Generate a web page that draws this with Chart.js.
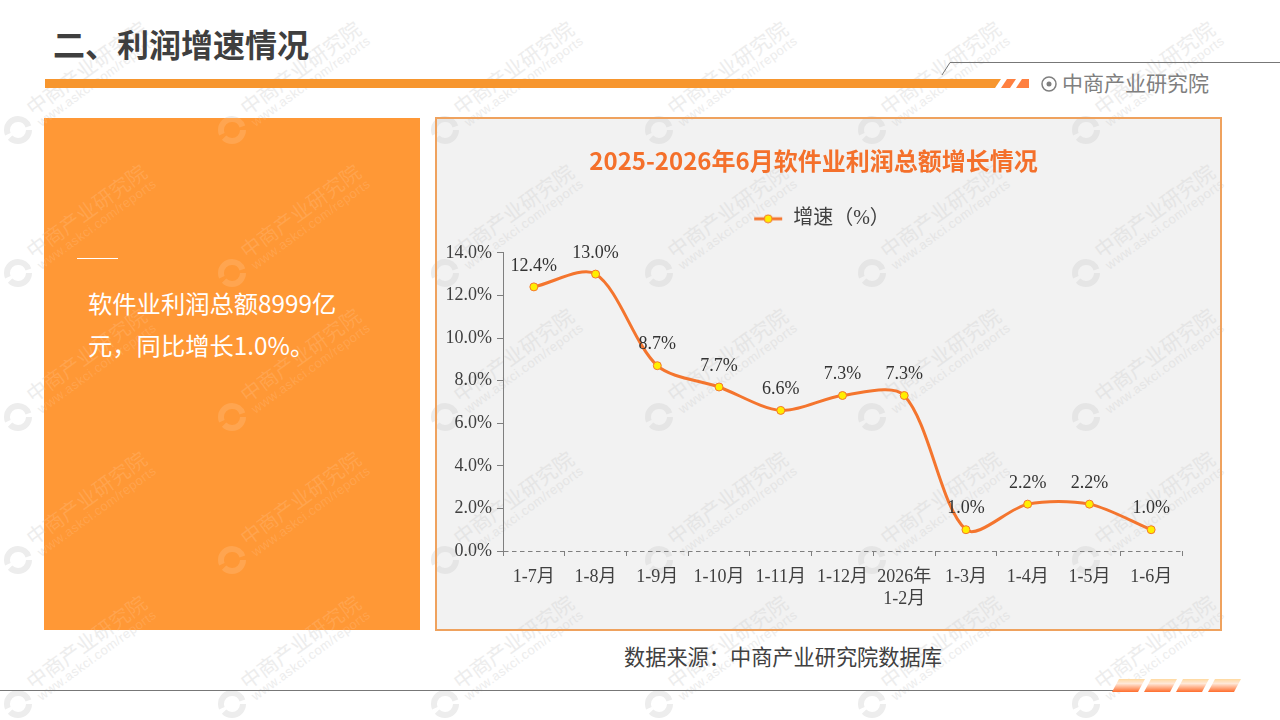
<!DOCTYPE html>
<html lang="zh">
<head>
<meta charset="utf-8">
<title>利润增速情况</title>
<script src="https://cdn.jsdelivr.net/npm/chart.js@4/dist/chart.umd.min.js"></script>
<style>
html,body{margin:0;padding:0;background:#fff}
body{position:relative;width:1280px;height:720px;overflow:hidden;font-family:"Noto Sans CJK SC",sans-serif}
.abs{position:absolute}
.wm{position:absolute;inset:0;overflow:hidden}
.wm div{position:absolute;white-space:nowrap;transform:rotate(-36deg);transform-origin:0 0}
.wm .cn{font-size:20.4px;line-height:20px}
.wm .en{font:13px/14px "Liberation Sans",sans-serif;letter-spacing:.5px}
#heading{left:53px;top:21px;font-size:32px;font-weight:700;line-height:44px;color:#3f3f3f}
#brand{left:1062px;top:68px;font-size:21px;line-height:28px;color:#7f7f7f}
#side{left:44px;top:118px;width:376px;height:512px;background:#ff9836;overflow:hidden}
#sideText{left:88px;top:282px;width:260px;font-size:24.3px;line-height:42px;color:#fff}
#panel{left:435px;top:117px;width:783px;height:510px;background:#f2f2f2;border:2px solid #efa25e;overflow:hidden}
#chartBox{left:437px;top:120px;width:755px;height:509px}
#source{left:624px;top:641px;font-size:21.2px;line-height:30px;color:#404040}
</style>
</head>
<body>
<div class="wm" id="wmPage"></div>
<div class="abs" id="heading">二、利润增速情况</div>
<svg class="abs" style="left:0;top:0" width="1280" height="720">
  <polygon points="45,79 1001,79 995,88 45,88" fill="#f7962e"/>
  <polygon points="1007,79 1016,79 1010,88 1001,88" fill="#ff8040"/>
  <polygon points="1022,79 1029,79 1029,88 1016,88" fill="#ff8040"/>
  <polyline points="942,75 950,62.5 1280,62.5" fill="none" stroke="#777" stroke-width="1"/>
  <circle cx="1049" cy="84" r="7" fill="none" stroke="#7f7f7f" stroke-width="1.5"/>
  <circle cx="1049" cy="84" r="2.5" fill="#7f7f7f"/>
  <line x1="0" y1="690.5" x2="1114" y2="690.5" stroke="#777" stroke-width="1"/>
  <defs><linearGradient id="foot" x1="0" y1="0" x2="0" y2="1">
    <stop offset="0" stop-color="#ffd9a0"/><stop offset=".35" stop-color="#ffe8d8"/><stop offset="1" stop-color="#ff6d2c"/>
  </linearGradient></defs>
  <polygon points="1119,679 1145,679 1138,692 1112,692" fill="url(#foot)"/>
  <polygon points="1151,679 1177,679 1170,692 1144,692" fill="url(#foot)"/>
  <polygon points="1183,679 1209,679 1202,692 1176,692" fill="url(#foot)"/>
  <polygon points="1215,679 1241,679 1234,692 1208,692" fill="url(#foot)"/>
</svg>
<div class="abs" id="brand">中商产业研究院</div>
<div class="abs" id="side"><div class="wm" id="wmSide"></div></div>
<div class="abs" style="left:77px;top:258px;width:41px;height:1px;background:#fff"></div>
<div class="abs" id="sideText">软件业利润总额8999亿元，同比增长1.0%。</div>
<div class="abs" id="panel"><div class="wm" id="wmPanel"></div></div>
<div class="abs" id="chartBox"><canvas id="chart" width="755" height="509"></canvas></div>
<div class="abs" id="source">数据来源：中商产业研究院数据库</div>
<script>
const categories = ['1-7月','1-8月','1-9月','1-10月','1-11月','1-12月',['2026年','1-2月'],'1-3月','1-4月','1-5月','1-6月'];
const growth = [12.4,13.0,8.7,7.7,6.6,7.3,7.3,1.0,2.2,2.2,1.0];
const seriesName = '增速（%）';
const chartTitle = '2025-2026年6月软件业利润总额增长情况';

const serif = '"Liberation Serif","Noto Sans CJK SC",serif';
const lineColor = '#f4752e';

// repeated site watermark, one layer per background
function addWatermark(id, color, ox, oy){
  const box = document.getElementById(id);
  for(let r=-1;r<6;r++) for(let c=0;c<7;c++){
    const lx = 18+c*213.5-ox, ly = -14+r*143.5-oy;
    const cn = document.createElement('div');
    cn.className='cn'; cn.textContent='中商产业研究院'; cn.style.color=color;
    cn.style.left=(lx+4)+'px'; cn.style.top=(ly-29)+'px';
    const en = document.createElement('div');
    en.className='en'; en.textContent='www.askci.com/reports'; en.style.color=color;
    en.style.left=(lx+17)+'px'; en.style.top=(ly-12)+'px';
    box.append(cn,en);
    const ring = document.createElementNS('http://www.w3.org/2000/svg','svg');
    ring.setAttribute('width','32'); ring.setAttribute('height','32');
    ring.style.cssText='position:absolute;left:'+(lx-16)+'px;top:'+(ly-16)+'px';
    ring.innerHTML='<circle cx="16" cy="16" r="11" fill="none" stroke="'+color+'" stroke-width="6" stroke-dasharray="26 4 35 4"/>';
    box.append(ring);
  }
}
addWatermark('wmPage','#ededed',0,0);
addWatermark('wmSide','rgba(255,255,255,.13)',44,118);
addWatermark('wmPanel','#e5e5e5',437,119);

// legend swatch: line with a marker on it
const swatch = document.createElement('canvas');
swatch.width = 30; swatch.height = 10;
const sw = swatch.getContext('2d');
sw.strokeStyle = lineColor; sw.lineWidth = 3;
sw.beginPath(); sw.moveTo(1,5); sw.lineTo(29,5); sw.stroke();
sw.fillStyle = '#ffee00'; sw.lineWidth = 1;
sw.beginPath(); sw.arc(15,5,4,0,Math.PI*2); sw.fill(); sw.stroke();

const valueLabels = {
  id:'valueLabels',
  afterDatasetsDraw(chart){
    const ctx = chart.ctx;
    ctx.save();
    ctx.font = '18px '+serif;
    ctx.fillStyle = '#333';
    ctx.textAlign = 'center';
    ctx.textBaseline = 'middle';
    chart.getDatasetMeta(0).data.forEach((pt,i)=>{
      ctx.fillText(growth[i].toFixed(1)+'%', pt.x, pt.y-21);
    });
    ctx.restore();
  }
};

// title and legend sit off the canvas centre in the reference
const nudgeHeader = {
  id:'nudgeHeader',
  afterLayout(chart){
    chart.titleBlock.left += 4; chart.titleBlock.right += 4;
    chart.legend.left += 12; chart.legend.right += 12;
    chart.legend.top -= 14;
  }
};

new Chart(document.getElementById('chart'),{
  type:'line',
  data:{ labels:categories, datasets:[{
    label:seriesName, data:growth,
    borderColor:lineColor, borderWidth:3, tension:0.3,
    pointBackgroundColor:'#ffee00', pointBorderColor:lineColor, pointBorderWidth:1, pointRadius:4
  }]},
  options:{
    responsive:false, animation:false,
    layout:{ padding:{ left:0, right:10, top:0, bottom:0 } },
    plugins:{
      tooltip:{ enabled:false },
      title:{ display:true, text:chartTitle, color:'#f4702b',
        font:{ family:'"Noto Sans CJK SC",sans-serif', size:24, weight:'bold' },
        padding:{ top:26, bottom:6 } },
      legend:{ position:'top', labels:{
        usePointStyle:true, pointStyleWidth:30, padding:42, color:'#404040',
        font:{ family:serif, size:20 },
        generateLabels(chart){
          return Chart.defaults.plugins.legend.labels.generateLabels(chart).map(l=>({...l,pointStyle:swatch}));
        }
      }}
    },
    scales:{
      x:{
        offset:true,
        afterFit(s){ s.height = 78; },
        border:{ display:false },
        grid:{ offset:true, drawOnChartArea:false, drawTicks:true, tickLength:5, tickColor:'#7f7f7f', color:'#7f7f7f' },
        ticks:{ color:'#404040', padding:10, maxRotation:0, autoSkip:false, font:{ family:serif, size:18, lineHeight:1.22 } }
      },
      y:{
        min:0, max:14,
        afterFit(s){ s.width = 66; },
        border:{ display:true, color:'#7f7f7f', width:1, dash:[4.5,3.5] },
        grid:{ drawOnChartArea:true, tickLength:6, tickColor:'#7f7f7f', tickBorderDash:[],
          color(c){ return c.tick && c.tick.value===0 ? '#7f7f7f' : 'transparent'; } },
        ticks:{ stepSize:2, color:'#404040', padding:5, font:{ family:serif, size:18 },
          callback(v){ return v.toFixed(1)+'%'; } }
      }
    }
  },
  plugins:[valueLabels,nudgeHeader]
});
</script>
</body>
</html>
